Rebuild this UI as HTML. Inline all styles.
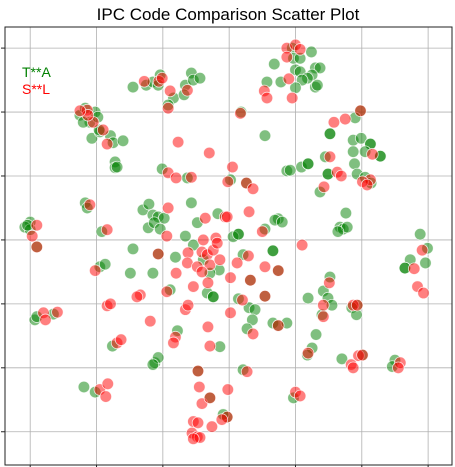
<!DOCTYPE html>
<html><head><meta charset="utf-8"><style>
html,body{margin:0;padding:0;background:#fff;width:455px;height:467px;overflow:hidden}
svg{display:block;font-family:"Liberation Sans",sans-serif}
</style></head><body>
<svg id="chart" width="455" height="467" viewBox="0 0 455 467">
<text x="228" y="20" text-anchor="middle" font-size="17" fill="#000">IPC Code Comparison Scatter Plot</text>
<g id="grid"></g>
<g id="pts"></g>
<rect x="5" y="27" width="447" height="438" fill="none" stroke="#222" stroke-width="1"/>
<g id="ticks"></g>
<text x="22" y="77" font-size="14" fill="green">T**A</text>
<text x="22" y="94" font-size="14" fill="red">S**L</text>
</svg>
<script>
const xTicks=[-3,-2,-1,0,1,2,3];
const yTicks=[-3,-2,-1,0,1,2,3];
const greenX=[-3.00,-3.08,-3.00,-2.93,-2.90,-2.65,-2.17,-2.14,-1.92,-1.30,-1.21,-1.15,-1.07,-0.98,-1.22,-1.13,-1.04,-0.66,-0.57,-0.48,-0.17,-1.01,-0.63,-1.72,-1.72,-1.69,-2.07,-1.95,-1.96,-1.79,-1.75,-1.60,-2.25,-2.02,-2.10,-2.20,-1.98,-2.17,-1.45,-1.25,-1.15,-1.04,-1.07,-0.84,-0.92,-0.66,-0.57,-0.54,-0.44,-0.68,0.95,0.97,1.07,1.24,0.68,1.00,1.07,1.30,1.37,1.25,1.18,1.10,0.78,0.57,1.30,1.33,1.00,0.18,0.54,1.98,1.90,1.52,1.52,1.87,1.99,2.13,2.13,2.05,2.28,2.28,1.87,1.45,1.89,1.93,2.05,2.14,1.49,1.37,0.87,0.92,1.09,1.19,0.02,0.26,0.74,0.69,0.80,0.54,0.14,0.06,1.67,1.72,1.78,1.76,1.64,2.88,2.99,2.73,2.65,2.96,0.66,0.21,0.74,0.32,0.54,0.14,0.30,0.39,0.35,0.27,0.66,0.74,0.87,1.19,1.52,1.42,1.49,1.55,1.40,1.93,1.85,1.92,1.31,1.25,1.18,1.70,2.01,2.50,2.46,0.97,0.21,-0.03,-1.45,-1.49,-1.15,-1.07,-0.81,-0.54,-0.39,-0.15,-0.29,-0.33,-0.24,-0.89,-1.95,-1.87,-0.14,-0.78,-1.76,-1.12,-1.07,-1.15,-0.47,-2.19,-2.02,-0.29,-0.09,-2.90,-3.04,0.14,-0.24,0.66,2.65,1.49,1.19];
const greenY=[0.28,0.20,0.16,-1.25,-1.20,-1.16,0.58,0.50,0.13,0.47,0.56,0.39,0.36,0.34,0.19,0.27,0.17,0.06,0.58,0.27,0.41,1.11,0.97,1.22,1.13,1.14,1.59,1.69,1.72,1.63,1.52,1.55,1.95,2.00,1.84,1.84,1.92,2.06,2.39,2.42,2.47,2.58,2.42,2.22,2.11,2.42,2.61,2.50,2.53,2.27,3.00,2.84,2.84,2.94,2.75,2.66,2.63,2.69,2.69,2.58,2.53,2.50,2.47,2.47,2.39,2.42,2.38,2.00,1.63,2.02,1.91,1.66,1.66,1.56,1.59,1.50,1.50,1.38,1.31,1.31,1.38,1.30,1.19,1.03,0.98,0.89,1.03,0.75,1.08,1.09,1.14,1.19,0.94,0.89,0.33,0.31,0.28,0.17,0.09,0.05,0.20,0.17,0.20,0.42,0.13,0.09,-0.13,-0.31,-0.44,-0.36,-0.17,-0.23,-0.48,-0.63,-0.88,-0.92,-1.06,-1.09,-1.25,-1.39,-1.30,-1.34,-1.30,-0.91,-0.58,-0.80,-0.91,-1.02,-1.17,-1.02,-1.06,-1.17,-1.48,-1.69,-1.80,-1.86,-1.80,-1.88,-1.98,-2.47,-2.03,-2.77,-0.14,-0.52,-0.52,-0.22,-0.27,-0.08,-0.31,-0.47,-0.52,-0.83,-0.89,-0.78,-0.42,-0.38,-1.67,-1.42,-1.66,-1.92,-1.84,-1.95,-2.05,-2.30,-2.38,-2.47,-2.73,-0.11,0.23,0.09,-0.89,-0.17,-0.44,1.03,1.19];
const redX=[-2.90,-2.97,-2.90,-2.80,-2.77,-2.59,-2.10,-1.84,-0.92,-0.94,-0.36,-0.06,-0.39,-0.20,-0.92,-0.80,-0.57,-0.77,-0.30,-1.90,-1.84,-2.14,-2.05,-2.13,-2.25,-1.28,-1.06,-1.01,-0.89,-0.92,-0.63,0.87,1.00,1.07,0.87,0.90,0.53,0.57,0.95,0.17,1.98,1.75,1.58,2.16,1.52,2.13,2.01,2.08,1.63,1.69,1.43,0.05,-0.02,0.26,0.36,0.30,-0.03,0.50,1.10,2.91,2.79,2.84,2.93,0.29,0.12,0.54,0.74,0.02,0.32,0.54,0.20,0.02,0.36,0.74,1.51,1.42,1.42,1.87,1.93,1.19,1.95,2.01,1.84,1.87,2.58,2.55,1.00,1.07,0.27,-0.02,-0.03,-1.07,-0.80,-0.62,-0.63,-0.48,-0.41,-0.33,-0.24,-0.18,-0.29,-0.14,-0.41,-0.32,-0.54,-0.94,-1.34,-1.39,-2.02,-1.84,-1.79,-0.66,-0.62,-1.19,-0.32,-0.29,-0.81,-0.84,-1.69,-1.63,-0.47,-1.95,-1.86,-1.83,-0.45,-0.41,-0.29,-0.54,-0.47,-0.26,-0.11,-0.56,-0.48,-0.44,-0.54];
const redY=[0.23,0.06,-0.11,-1.14,-1.25,-1.13,0.55,0.16,0.50,0.06,0.34,0.36,0.00,0.03,1.05,0.97,0.98,1.53,1.36,1.72,1.50,2.03,1.84,1.95,2.02,2.48,2.48,2.53,2.33,2.06,2.34,3.00,3.05,2.98,2.86,2.52,2.33,2.22,2.22,1.98,2.02,1.89,1.84,1.34,1.30,0.94,0.91,0.86,1.06,1.00,0.83,1.14,0.91,0.89,0.80,0.44,0.36,0.13,-0.08,-0.16,-0.45,-0.73,-0.83,-0.25,-0.36,-0.42,-0.48,-0.59,-0.63,-0.88,-0.94,-1.14,-1.47,-1.34,-0.67,-1.02,-1.20,-1.02,-1.02,-1.77,-1.81,-1.80,-1.95,-2.00,-1.92,-2.00,-2.38,-2.44,-2.06,-2.34,-2.77,-0.22,-0.52,-0.20,-0.36,-0.42,-0.19,-0.23,-0.16,-0.05,-0.39,-0.31,-0.50,-0.67,-0.73,-0.81,-0.86,-0.89,-0.48,-1.03,-1.00,-1.09,-1.02,-1.27,-1.36,-1.66,-1.52,-1.61,-1.61,-1.56,-2.05,-2.34,-2.45,-2.25,-2.30,-2.56,-2.47,-2.84,-2.86,-2.92,-2.81,-3.02,-3.08,-3.09,-3.11];
const X0=5,X1=452,Y0=27,Y1=465,XMIN=-3.38,XMAX=3.36,YMIN=-3.52,YMAX=3.33;
function sx(v){return X0+(v-XMIN)/(XMAX-XMIN)*(X1-X0);}
function sy(v){return Y1-(v-YMIN)/(YMAX-YMIN)*(Y1-Y0);}
const NS="http://www.w3.org/2000/svg";
const grid=document.getElementById('grid'),ticks=document.getElementById('ticks'),pts=document.getElementById('pts');
function ln(p,x1,y1,x2,y2,c,w,name){const l=document.createElementNS(NS,'line');l.setAttribute('x1',x1);l.setAttribute('y1',y1);l.setAttribute('x2',x2);l.setAttribute('y2',y2);l.setAttribute('stroke',c);l.setAttribute('stroke-width',w);


p.appendChild(l);}
xTicks.forEach(t=>{const x=sx(t);ln(grid,x,Y0,x,Y1,'#b0b0b0',0.8,'x-gridline');ln(ticks,x,Y1,x,Y1+4,'#222',1,'x-tick');});
yTicks.forEach(t=>{const y=sy(t);ln(grid,X0,y,X1,y,'#b0b0b0',0.8,'y-gridline');ln(ticks,X0-4,y,X0,y,'#222',1,'y-tick');});
function dot(x,y,c,name){const e=document.createElementNS(NS,'circle');e.setAttribute('cx',sx(x));e.setAttribute('cy',sy(y));e.setAttribute('r',5.8);e.setAttribute('fill',c);e.setAttribute('fill-opacity',0.5);e.setAttribute('stroke','#fff');e.setAttribute('stroke-opacity',0.8);e.setAttribute('stroke-width',0.8);


pts.appendChild(e);}
greenX.forEach((x,i)=>dot(x,greenY[i],'green','point-tya'));
redX.forEach((x,i)=>dot(x,redY[i],'red','point-sl'));
</script>
</body></html>
